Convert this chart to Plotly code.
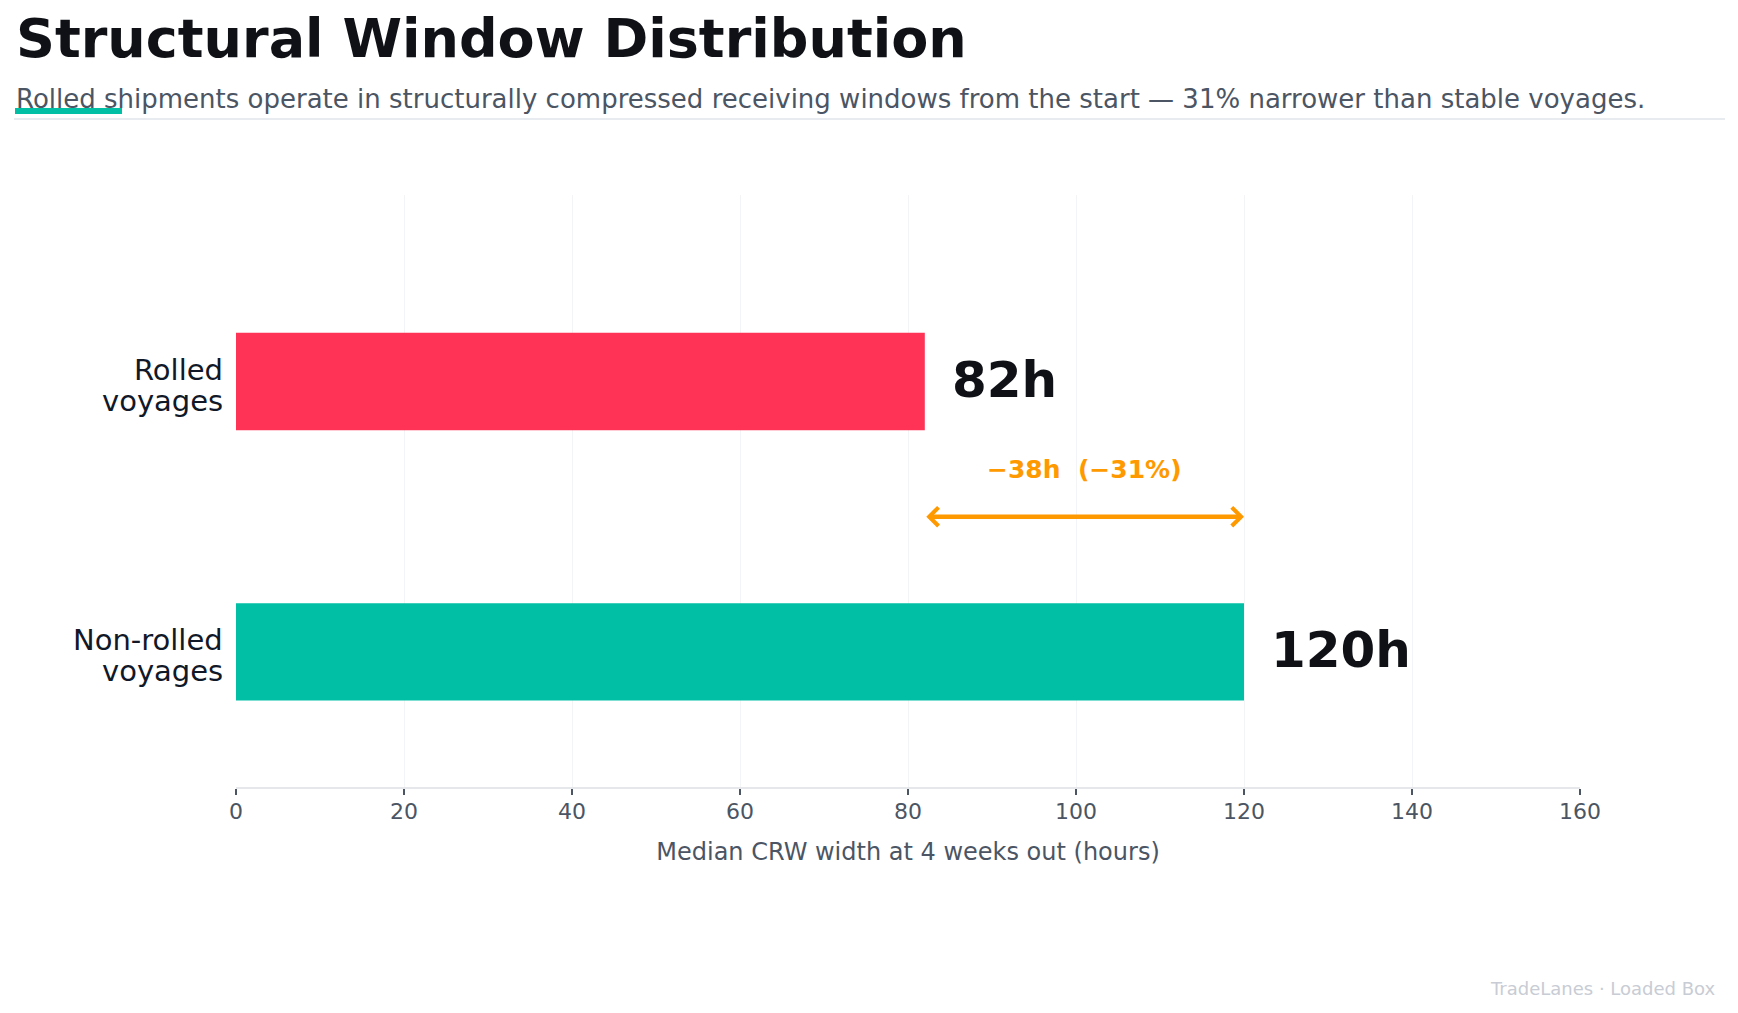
import plotly.graph_objects as go

# ---- data ----
categories = ["Rolled voyages", "Non-rolled voyages"]
tick_labels = ["Rolled<br>voyages", "Non-rolled<br>voyages"]
values = [82, 120]
bar_colors = ["#ff3355", "#00bfa5"]
value_labels = ["82h", "120h"]
delta_label = "\u221238h&nbsp; (\u221231%)"
x_ticks = [0, 20, 40, 60, 80, 100, 120, 140, 160]

title_text = "Structural Window Distribution"
subtitle_text = ("Rolled shipments operate in structurally compressed receiving windows "
                 "from the start \u2014 31% narrower than stable voyages.")
x_title = "Median CRW width at 4 weeks out (hours)"
footer_text = "TradeLanes \u00b7 Loaded Box"

# ---- layout geometry (pixels) ----
W, H = 1738, 1013
OFF = 8  # page body offset
ML, MR, MT, MB = 228, 166, 187, 234
PW = W - ML - MR
PH = H - MT - MB
FONT = "DejaVu Sans"


def px_x(sx):
    return (sx - OFF - ML) / PW


def px_y(sy):
    return (H - MB - (sy - OFF)) / PH


fig = go.Figure()
fig.add_trace(go.Bar(
    y=categories,
    x=values,
    orientation="h",
    marker=dict(color=bar_colors, line=dict(width=0)),
    width=0.36,
    hoverinfo="skip",
))

annotations = []
# category labels (two tight lines each)
line_shifts = [12, -19]
for cat, lab in zip(categories, tick_labels):
    for part, dy in zip(lab.split("<br>"), line_shifts):
        annotations.append(dict(
            x=0, y=cat, xref="paper", yref="y", text=part, showarrow=False,
            xanchor="right", yanchor="middle", xshift=-11, yshift=dy,
            font=dict(family=FONT, size=29, color="#111827"),
        ))

# value labels
for cat, v, lab in zip(categories, values, value_labels):
    annotations.append(dict(
        x=v, y=cat, xref="x", yref="y", text=lab, showarrow=False,
        xanchor="left", yanchor="middle", xshift=25, yshift=2,
        font=dict(family=FONT, size=50, color="#0f1117", weight="bold"),
    ))

# difference arrow (double-headed) between the two values
mid_y = 0.5
annotations.append(dict(
    x=values[1], y=mid_y, ax=values[0], ay=mid_y,
    xref="x", yref="y", axref="x", ayref="y",
    text="", showarrow=True, arrowside="end+start",
    arrowhead=4, arrowsize=0.8, arrowwidth=4.5, arrowcolor="#ff9900",
    standoff=0, startstandoff=0,
))
annotations.append(dict(
    x=(values[0] + values[1]) / 2, y=mid_y, xref="x", yref="y",
    text=delta_label, showarrow=False, xanchor="center", yanchor="middle",
    yshift=47,
    font=dict(family=FONT, size=25, color="#ff9900", weight="bold"),
))

# title / subtitle / footer
annotations.append(dict(
    x=px_x(14), y=px_y(38), xref="paper", yref="paper",
    text=title_text, showarrow=False, xanchor="left", yanchor="middle",
    font=dict(family=FONT, size=54, color="#0f1117", weight="bold"),
))
annotations.append(dict(
    x=px_x(14), y=px_y(99), xref="paper", yref="paper",
    text=subtitle_text, showarrow=False, xanchor="left", yanchor="middle",
    font=dict(family=FONT, size=26, color="#4b5563"),
))
annotations.append(dict(
    x=px_x(1718), y=px_y(988), xref="paper", yref="paper",
    text=footer_text, showarrow=False, xanchor="right", yanchor="middle",
    font=dict(family=FONT, size=18, color="#c8ccd4"),
))

shapes = [
    dict(type="line", xref="paper", yref="paper",
         x0=px_x(14), x1=px_x(1725), y0=px_y(119), y1=px_y(119),
         line=dict(color="#e8ebef", width=2)),
    dict(type="rect", xref="paper", yref="paper",
         x0=px_x(15), x1=px_x(122), y0=px_y(114), y1=px_y(108),
         fillcolor="#00bfa5", line=dict(width=0)),
]

fig.update_layout(
    width=W, height=H,
    margin=dict(l=ML, r=MR, t=MT, b=MB, autoexpand=False),
    paper_bgcolor="white", plot_bgcolor="white",
    showlegend=False,
    annotations=annotations,
    shapes=shapes,
    font=dict(family=FONT),
)
fig.update_xaxes(
    range=[0, 160], tickvals=x_ticks, ticktext=[str(t) for t in x_ticks],
    showgrid=True, gridcolor="#f3f4f6", gridwidth=1,
    zeroline=False, showline=True, linecolor="#e5e7eb", linewidth=2,
    ticks="outside", ticklen=6, tickwidth=1.5, tickcolor="#4b5563",
    ticklabelstandoff=-2,
    tickfont=dict(family=FONT, size=22, color="#4b5563"),
    title=dict(text=x_title, font=dict(family=FONT, size=24, color="#4b5563"), standoff=20),
)
fig.update_yaxes(
    type="category", categoryorder="array", categoryarray=categories,
    range=[1.5, -0.69],
    showgrid=False, zeroline=False, showline=False, ticks="",
    showticklabels=False,
)

fig.write_html("out.html")
